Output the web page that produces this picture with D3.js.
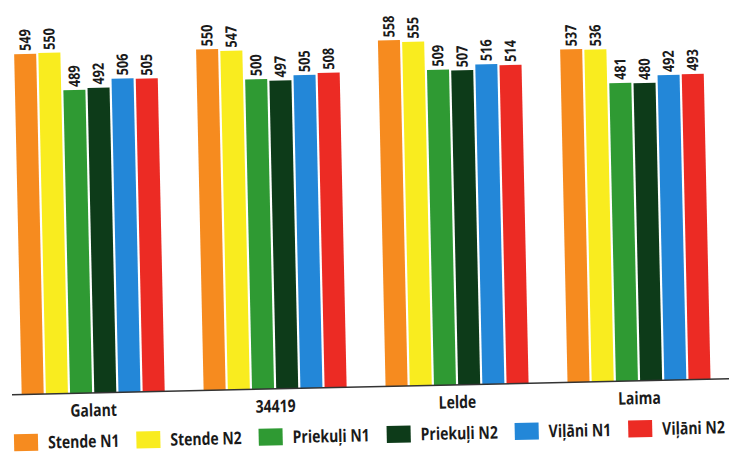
<!DOCTYPE html>
<html>
<head>
<meta charset="utf-8">
<script src="https://cdn.jsdelivr.net/npm/d3@7"></script>
<style>
  html, body { margin: 0; padding: 0; background: #fff; }
  svg { display: block; }
  text { font-family: "Open Sans", "Noto Sans", "DejaVu Sans", sans-serif; fill: #1a1a1a; font-weight: 700; }
</style>
</head>
<body>
<svg id="chart" width="729" height="452"></svg>
<script>
// ---- data ----
const categories = ["Galant", "34419", "Lelde", "Laima"];
const series = ["Stende N1", "Stende N2", "Priekuļi N1", "Priekuļi N2", "Viļāni N1", "Viļāni N2"];
const stendeN1   = [549, 550, 558, 537];
const stendeN2   = [550, 547, 555, 536];
const priekuliN1 = [489, 500, 509, 481];
const priekuliN2 = [492, 497, 507, 480];
const vilaniN1   = [506, 505, 516, 492];
const vilaniN2   = [505, 508, 514, 493];
const colors = ["#F68B1F", "#F9EC1F", "#2F9A33", "#0D3B19", "#2387D8", "#EC2B24"];

const values = [stendeN1, stendeN2, priekuliN1, priekuliN2, vilaniN1, vilaniN2];

// ---- layout ----
const baseY = 395;
const condense = 0.8;
const svg = d3.select("#chart");
const g = svg.append("g").attr("transform", `rotate(-1.27, 0, ${baseY})`);

const x0 = d3.scaleBand().domain(categories).range([21.7, 710.7]).paddingInner(0.214).paddingOuter(0);
const x1 = d3.scaleBand().domain(series).range([0, x0.bandwidth()]).paddingInner(0.09).paddingOuter(0);
const y = d3.scaleLinear().domain([0, 600]).range([baseY, baseY - 600 * 0.62]);

const rows = [];
categories.forEach((c, ci) => {
  series.forEach((s, si) => {
    rows.push({ cat: c, ser: s, si, v: values[si][ci] });
  });
});

// bars
g.selectAll("rect.bar").data(rows).join("rect")
  .attr("class", "bar")
  .attr("x", d => x0(d.cat) + x1(d.ser))
  .attr("width", x1.bandwidth())
  .attr("y", d => y(d.v))
  .attr("height", d => y(0) - y(d.v))
  .attr("fill", d => colors[d.si]);

// value labels
g.selectAll("text.val").data(rows).join("text")
  .attr("class", "val")
  .attr("transform", d => `translate(${x0(d.cat) + x1(d.ser) + x1.bandwidth() / 2}, ${y(d.v) - 3}) rotate(-90) scale(0.82,1)`)
  .attr("dy", "0.36em")
  .attr("text-anchor", "start")
  .attr("font-size", 15.5)
  .text(d => d.v);

// axis line + category labels
const xAxis = d3.axisBottom(x0).tickSize(0).tickPadding(11);
const axG = g.append("g").attr("transform", `translate(0, ${baseY})`).call(xAxis);
axG.select(".domain").attr("d", `M12,0H745`).attr("stroke", "#333").attr("stroke-width", 1.5);
axG.selectAll(".tick text")
  .attr("font-size", 17.5)
  .attr("fill", "#1a1a1a")
  .attr("transform", `scale(${condense},1)`)
  .style("font-family", '"Open Sans", "Noto Sans", "DejaVu Sans", sans-serif')
  .style("font-weight", 700);

// legend (flow layout)
const legend = g.append("g").attr("transform", `translate(0, 443)`);
let lx = 13;
series.forEach((s, si) => {
  const item = legend.append("g").attr("transform", `translate(${lx}, 0)`);
  item.append("rect").attr("x", 0).attr("y", -8.5).attr("width", 24).attr("height", 17).attr("fill", colors[si]);
  const t = item.append("text").attr("transform", `translate(34, 6.5) scale(${condense},1)`)
    .attr("font-size", 17.5).text(s);
  const tw = t.node().getComputedTextLength() * condense;
  lx += 34 + tw + 17;
});
</script>
</body>
</html>
